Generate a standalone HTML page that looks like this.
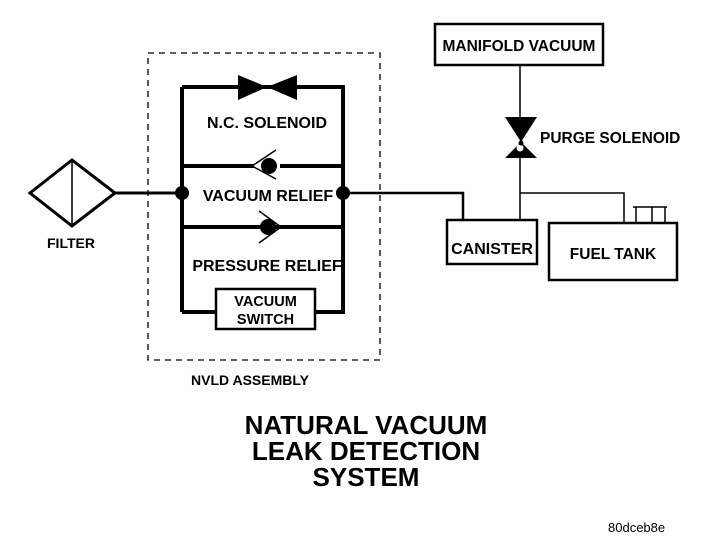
<!DOCTYPE html>
<html><head><style>
html,body{margin:0;padding:0;background:#fff;}
svg{display:block;}
text{font-family:"Liberation Sans",sans-serif;font-weight:bold;fill:#000;}
</style></head><body>
<svg width="704" height="546" viewBox="0 0 704 546" xmlns="http://www.w3.org/2000/svg">
<rect x="148" y="53" width="232" height="307" fill="none" stroke="#000" stroke-width="1.3" stroke-dasharray="6,5"/>
<polygon points="30,193 72,160 115,193 72,226" fill="none" stroke="#000" stroke-width="3"/>
<line x1="72" y1="162" x2="72" y2="224" stroke="#000" stroke-width="1.5"/>
<text x="47" y="248" font-size="14">FILTER</text>
<line x1="115" y1="193" x2="182" y2="193" stroke="#000" stroke-width="3"/>
<path d="M182,87 H343 V312 H315 M216,312 H182 Z" fill="none" stroke="#000" stroke-width="4"/>
<line x1="182" y1="87" x2="182" y2="312" stroke="#000" stroke-width="4"/>
<polygon points="238,75 267,87 238,100" fill="#000"/>
<polygon points="297,75 267,87 297,100" fill="#000"/>
<text x="267" y="128" font-size="16" text-anchor="middle">N.C. SOLENOID</text>
<line x1="182" y1="166" x2="254" y2="166" stroke="#000" stroke-width="4"/>
<line x1="280" y1="166" x2="343" y2="166" stroke="#000" stroke-width="4"/>
<circle cx="269" cy="166" r="8" fill="#000"/>
<polyline points="276,150 252,166 276,179" fill="none" stroke="#000" stroke-width="1.5"/>
<text x="268" y="201" font-size="16" text-anchor="middle">VACUUM RELIEF</text>
<line x1="182" y1="227" x2="343" y2="227" stroke="#000" stroke-width="4"/>
<circle cx="268" cy="227" r="8" fill="#000"/>
<polyline points="259,211 281,227 259,243" fill="none" stroke="#000" stroke-width="1.5"/>
<text x="267" y="271" font-size="16" text-anchor="middle">PRESSURE RELIEF</text>
<circle cx="182" cy="193" r="7" fill="#000"/>
<circle cx="343" cy="193" r="7" fill="#000"/>
<rect x="216" y="289" width="99" height="40" fill="#fff" stroke="#000" stroke-width="2.5"/>
<text x="265.5" y="306" font-size="14.5" text-anchor="middle">VACUUM</text>
<text x="265.5" y="324" font-size="14.5" text-anchor="middle">SWITCH</text>
<text x="191" y="385" font-size="14">NVLD ASSEMBLY</text>
<path d="M343,193 H463 V220" fill="none" stroke="#000" stroke-width="2.5"/>
<rect x="435" y="24" width="168" height="41" fill="none" stroke="#000" stroke-width="2.5"/>
<text x="519" y="51" font-size="15.5" text-anchor="middle">MANIFOLD VACUUM</text>
<line x1="520" y1="65" x2="520" y2="118" stroke="#000" stroke-width="1.5"/>
<polygon points="505,117 537,117 521,142" fill="#000"/>
<polygon points="505,158 537,158 521,142" fill="#000"/>
<circle cx="520" cy="148" r="3.5" fill="#fff"/>
<circle cx="521" cy="143" r="2.5" fill="#000"/>
<text x="540" y="143" font-size="15.5">PURGE SOLENOID</text>
<line x1="520" y1="158" x2="520" y2="220" stroke="#000" stroke-width="1.5"/>
<path d="M520,193 H624 V223" fill="none" stroke="#000" stroke-width="1.5"/>
<path d="M633,207 H667 M636,207 V223 M652,207 V223 M665,207 V223" fill="none" stroke="#000" stroke-width="1.5"/>
<rect x="447" y="220" width="90" height="44" fill="none" stroke="#000" stroke-width="2.5"/>
<text x="492" y="254" font-size="16" text-anchor="middle">CANISTER</text>
<rect x="549" y="223" width="128" height="57" fill="none" stroke="#000" stroke-width="2.5"/>
<text x="613" y="259" font-size="15.5" text-anchor="middle">FUEL TANK</text>
<text x="366" y="434" font-size="26" text-anchor="middle">NATURAL VACUUM</text>
<text x="366" y="460" font-size="26" text-anchor="middle">LEAK DETECTION</text>
<text x="366" y="486" font-size="26" text-anchor="middle">SYSTEM</text>
<text x="608" y="532" font-size="13" style="font-weight:normal">80dceb8e</text>
</svg>
</body></html>
